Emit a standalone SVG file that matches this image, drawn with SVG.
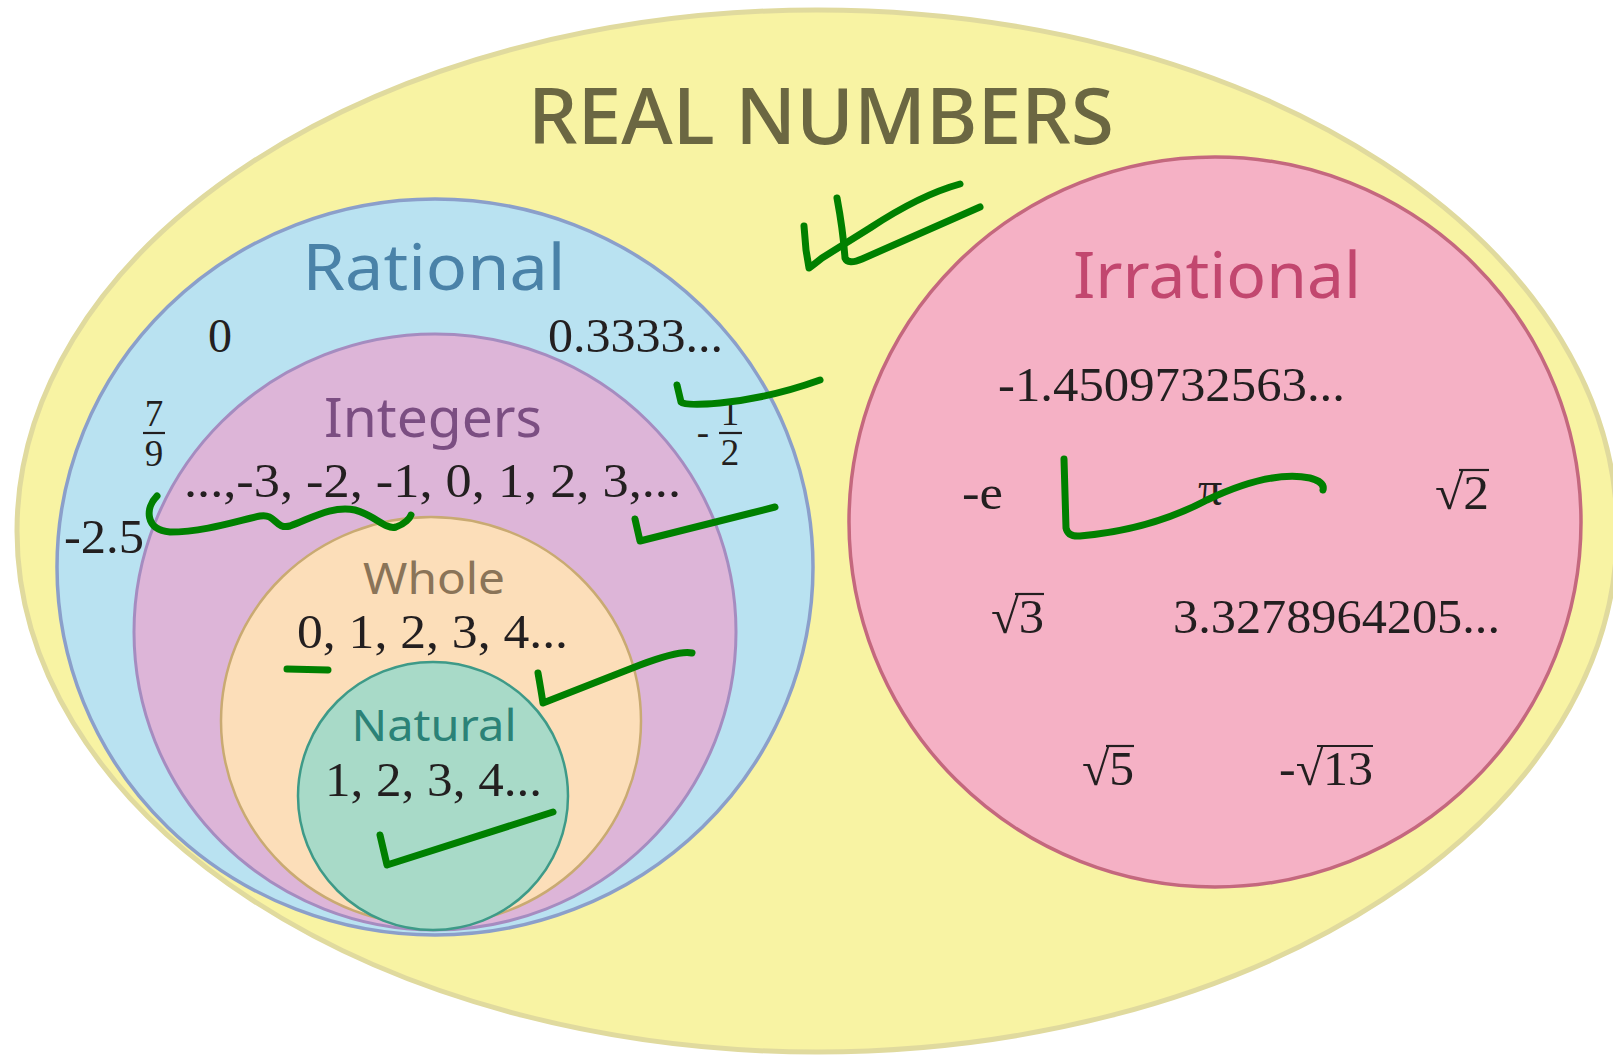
<svg xmlns="http://www.w3.org/2000/svg" width="1613" height="1056" viewBox="0 0 1613 1056">
<style>
.lbl{font-family:"Noto Sans","Open Sans",sans-serif;text-anchor:middle}
.num{font-family:"Liberation Serif","Times New Roman",serif;fill:#231f20;font-size:48px}
.frac{font-family:"Liberation Serif","Times New Roman",serif;fill:#231f20;font-size:37px;text-anchor:middle}
.bar{stroke:#231f20;stroke-width:2.2}
.mark{fill:none;stroke:#008000;stroke-width:7;stroke-linecap:round;stroke-linejoin:round}
</style>
<rect x="0" y="0" width="1613" height="1056" fill="#ffffff"/>
<g id="real">
<ellipse cx="817" cy="531" rx="800" ry="521" fill="#f8f3a3" stroke="#e0da9e" stroke-width="5"/>
<text class="lbl" x="821" y="144" font-size="78" font-weight="500" fill="#6b6742" textLength="586" lengthAdjust="spacingAndGlyphs">REAL NUMBERS</text>
</g>
<g id="rational">
<ellipse cx="435" cy="567" rx="378" ry="368" fill="#b9e2f1" stroke="#8b9fca" stroke-width="3.5"/>
<text class="lbl" x="434" y="290" font-size="63" fill="#4a82a8" textLength="263" lengthAdjust="spacingAndGlyphs">Rational</text>
<text class="num" x="220" y="352" text-anchor="middle">0</text>
<text class="num" x="548" y="352" textLength="175" lengthAdjust="spacingAndGlyphs">0.3333...</text>
<text class="frac" x="154" y="426">7</text>
<line class="bar" x1="143" y1="433" x2="165" y2="433"/>
<text class="frac" x="154" y="466">9</text>
<text class="frac" x="703" y="445">-</text>
<text class="frac" x="730" y="425">1</text>
<line class="bar" x1="719" y1="433" x2="742" y2="433"/>
<text class="frac" x="730" y="465">2</text>
<text class="num" x="64" y="553" textLength="80" lengthAdjust="spacingAndGlyphs">-2.5</text>
</g>
<g id="integers">
<ellipse cx="435" cy="632" rx="301" ry="298" fill="#ddb5d8" stroke="#a58cc0" stroke-width="3"/>
<text class="lbl" x="433" y="437" font-size="55" fill="#7b4e82" textLength="218" lengthAdjust="spacingAndGlyphs">Integers</text>
<text class="num" x="184" y="497" textLength="497" lengthAdjust="spacingAndGlyphs">...,-3, -2, -1, 0, 1, 2, 3,...</text>
</g>
<g id="whole">
<ellipse cx="431" cy="721" rx="210" ry="204" fill="#fcdeb9" stroke="#c9aa72" stroke-width="2.5"/>
<text class="lbl" x="434" y="594" font-size="43" fill="#8a7458" textLength="142" lengthAdjust="spacingAndGlyphs">Whole</text>
<text class="num" x="297" y="648" font-size="46" textLength="271" lengthAdjust="spacingAndGlyphs">0, 1, 2, 3, 4...</text>
</g>
<g id="natural">
<ellipse cx="433" cy="796" rx="135" ry="134" fill="#a8dac8" stroke="#3e9a88" stroke-width="2.5"/>
<text class="lbl" x="434" y="741" font-size="44" fill="#2b8277" textLength="165" lengthAdjust="spacingAndGlyphs">Natural</text>
<text class="num" x="325" y="796" font-size="50" textLength="217" lengthAdjust="spacingAndGlyphs">1, 2, 3, 4...</text>
</g>
<g id="irrational">
<ellipse cx="1215" cy="522" rx="366" ry="365" fill="#f5b1c5" stroke="#c4687e" stroke-width="3.5"/>
<text class="lbl" x="1217" y="298" font-size="63" fill="#c2476f" textLength="288" lengthAdjust="spacingAndGlyphs">Irrational</text>
<text class="num" x="998" y="401" textLength="347" lengthAdjust="spacingAndGlyphs">-1.4509732563...</text>
<text class="num" x="962" y="509" textLength="41" lengthAdjust="spacingAndGlyphs">-e</text>
<text class="num" x="1210" y="505" text-anchor="middle" font-size="38">π</text>
<text class="num" x="1435" y="509" textLength="54" lengthAdjust="spacingAndGlyphs">√2</text>
<line class="bar" x1="1459" y1="470" x2="1489" y2="470"/>
<text class="num" x="991" y="633" textLength="53" lengthAdjust="spacingAndGlyphs">√3</text>
<line class="bar" x1="1015" y1="594" x2="1044" y2="594"/>
<text class="num" x="1173" y="633" textLength="327" lengthAdjust="spacingAndGlyphs">3.3278964205...</text>
<text class="num" x="1082" y="785" textLength="52" lengthAdjust="spacingAndGlyphs">√5</text>
<line class="bar" x1="1106" y1="746" x2="1134" y2="746"/>
<text class="num" x="1279" y="785" textLength="94" lengthAdjust="spacingAndGlyphs">-√13</text>
<line class="bar" x1="1317" y1="746" x2="1373" y2="746"/>
</g>
<g id="annotations">
<path class="mark" d="M804,226 L806,250 L809,268 Q812,266 822,258 L870,228 Q920,195 960,184"/>
<path class="mark" d="M837,198 Q843,230 845,258 Q848,265 862,259 L980,207"/>
<path class="mark" d="M157,496 C145,508 145,530 170,532 C205,532 240,520 260,516 C276,513 275,530 290,526 C310,519 332,505 355,510 C375,515 385,530 396,527 C405,524 410,518 411,515"/>
<path class="mark" d="M677,385 L681,402 Q685,406 720,403 Q770,398 820,380"/>
<path class="mark" d="M635,519 L640,541 L775,507"/>
<path class="mark" d="M1064,459 L1066,528 Q1068,537 1080,536 Q1150,530 1207,500 Q1270,470 1310,478 Q1325,482 1323,490"/>
<path class="mark" d="M287,669 L328,670"/>
<path class="mark" d="M538,673 Q541,690 543,703 L640,665 Q680,650 692,653"/>
<path class="mark" d="M380,835 L387,865 L553,812"/>
</g>
</svg>
